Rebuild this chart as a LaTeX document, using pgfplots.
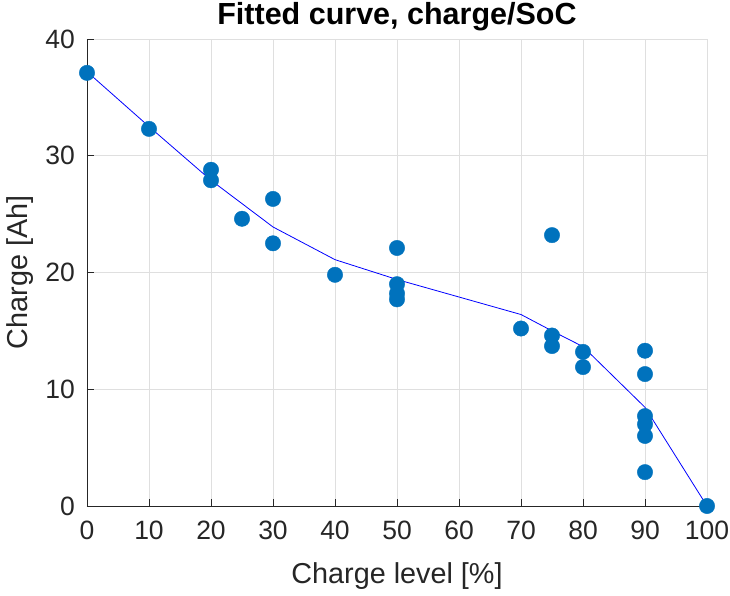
\documentclass[border=0pt]{standalone}
\usepackage{fontspec}
\setmainfont{Liberation Sans}
\usepackage{pgfplots}
\pgfplotsset{compat=1.18}
\definecolor{mblue}{HTML}{0072BD}
\definecolor{axgray}{HTML}{262626}
\definecolor{gridgray}{HTML}{DFDFDF}
\begin{document}
\begin{tikzpicture}
\begin{axis}[
  at={(0,0)}, anchor=south west,
  scale only axis, width=620pt, height=467pt,
  xmin=0, xmax=100, ymin=0, ymax=40,
  xtick={0,10,...,100}, ytick={0,10,20,30,40},
  axis x line*=bottom, axis y line*=left,
  axis line style={color=axgray, line width=0.9pt, -},
  tick align=inside, major tick length=7pt,
  tick style={color=axgray, line width=0.9pt},
  grid=major,
  major grid style={color=gridgray, line width=0.8pt},
  clip=false,
  /pgf/number format/assume math mode=true,
  ticklabel style={font=\fontsize{26.5}{30}\selectfont, text=axgray, inner sep=0pt},
  xticklabel style={anchor=north, yshift=-15pt},
  yticklabel style={anchor=east, xshift=-12pt},
  xlabel={Charge level [\%]},
  ylabel={Charge [Ah]},
  label style={font=\fontsize{28.8}{32}\selectfont, text=axgray, inner sep=0pt},
  xlabel style={at={(axis description cs:0.5,-0.1649)}, anchor=base},
  ylabel style={at={(axis description cs:-0.0952,0.5)}, anchor=base},
  every axis title shift=0pt,
  title={Fitted curve, charge/SoC},
  title style={at={(axis description cs:0.5,1.03)}, anchor=base, inner sep=0pt, font=\fontsize{30.5}{34}\selectfont\bfseries},
]
\addplot[only marks, mark=*, mark size=7.7pt, mark options={fill=mblue, draw=mblue}] coordinates {
(0,37.1) (10,32.3) (20,28.8) (20,27.9) (25,24.6) (30,26.3) (30,22.5)
(40,19.8) (50,22.1) (50,19.0) (50,18.2) (50,17.7) (70,15.2) (75,23.2)
(75,14.6) (75,13.7) (80,13.2) (80,11.9) (90,13.3) (90,11.3) (90,7.7)
(90,7.0) (90,6.0) (90,2.9) (100,0)
};
\addplot[blue, line width=0.8pt, no marks] coordinates {
(0,37.2) (10,32.5) (20,27.9) (30,23.9) (40,21.1) (50,19.4) (60,17.9)
(70,16.4) (75,15.0) (80,13.65) (90,8.45) (100,0)
};
\end{axis}
\pgfresetboundingbox
\useasboundingbox (-87pt,-90pt) rectangle (643pt,506pt);
\end{tikzpicture}
\end{document}
